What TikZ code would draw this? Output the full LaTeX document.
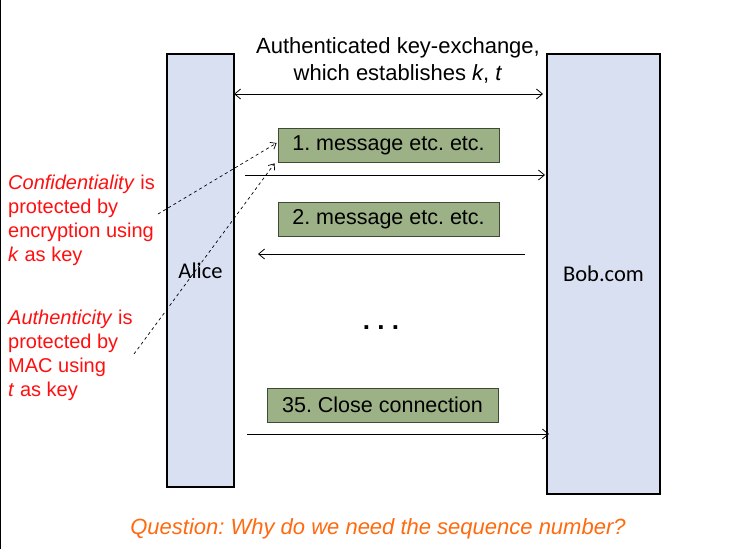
\documentclass[tikz,border=0pt]{standalone}
\usepackage{fontspec}
\setmainfont{Liberation Sans}
\newfontfamily\partyfont{Carlito}
\usepackage{tikz}
\usetikzlibrary{arrows.meta,positioning}
\definecolor{partyblue}{HTML}{D9E0F1}
\definecolor{msggreen}{HTML}{9CB185}
\definecolor{msgedge}{HTML}{3F4A35}
\definecolor{notered}{HTML}{FF1010}
\definecolor{askorange}{HTML}{FF6A0E}
\frenchspacing
\tikzset{
  party/.style    = {draw=black, line width=1.8pt, fill=partyblue,
                     font=\partyfont\fontsize{22.5}{24}\selectfont},
  msg box/.style  = {draw=msgedge, line width=0.8pt, fill=msggreen,
                     minimum height=34pt, inner sep=0pt,
                     font=\fontsize{21.5}{24}\selectfont},
  msg/.style      = {-{Straight Barb[length=6pt,width=10pt]}, line width=0.8pt},
  exchange/.style = {{Straight Barb[length=6pt,width=10pt]}-{Straight Barb[length=6pt,width=10pt]},
                     line width=0.8pt},
  note/.style     = {notered, align=left, anchor=north west, inner sep=0pt,
                     font=\fontsize{20}{24}\selectfont},
  pointer/.style  = {-{Straight Barb[length=5pt,width=8pt]}, dashed, line width=0.7pt},
}

\begin{document}
\begin{tikzpicture}[x=1pt,y=-1pt]
      \useasboundingbox[fill=white] (0,0) rectangle (746,549);
      \draw[line width=1.5pt] (0,0) -- (0,549);
      % the two parties
      \node[party, minimum width=67pt, minimum height=433pt] (alice) at (200.5,270.5) {Alice};
      \node[party, minimum width=113pt, minimum height=440pt] (bob) at (603.5,274) {Bob.com};
      % key exchange
      \node[align=center, font=\fontsize{22}{27}\selectfont] (kex) at (398,60)
        {Authenticated key-exchange,\\which establishes \textit{k}, \textit{t}};
      \coordinate (kexL) at (234,94);
      \coordinate (kexR) at (543,94);
      \draw[exchange] (kexL) -- (kexR);
      % messages
      \node[msg box, minimum width=221pt] (m1) at (388.5,145) {1. message etc. etc.};
      \node[msg box, minimum width=221pt] (m2) at (388.5,219) {2. message etc. etc.};
      \node[msg box, minimum width=231pt] (m35) at (382.5,405) {35. Close connection};
      \coordinate (a1) at (245,175);
      \coordinate (b1) at (545,175);
      \coordinate (b2) at (525,254);
      \coordinate (a2) at (258,254);
      \coordinate (a35) at (247,434);
      \coordinate (b35) at (549,434);
      \draw[msg] (a1) -- (b1);
      \draw[msg] (b2) -- (a2);
      \draw[msg] (a35) -- (b35);
      \node[font=\fontsize{26}{30}\selectfont\bfseries] (dots) at (381,328) {. . .};
      % what protects the messages
      \node[note] (conf) at (8,175)
        {\textit{Confidentiality} is\\protected by\\encryption using\\\textit{k} as key};
      \node[note] (auth) at (8,310)
        {\textit{Authenticity} is\\protected by\\MAC using\\\textit{t} as key};
      \coordinate (confptr) at (158,214);
      \coordinate (authptr) at (134,354);
      \draw[pointer] (confptr) -- ([shift={(-1pt,2pt)}]m1.west);
      \draw[pointer] (authptr) -- ([shift={(-3pt,-1pt)}]m1.south west);
      % the question
      \node[askorange, font=\fontsize{22}{24}\selectfont\itshape] (ask) at (378,529)
        {Question: Why do we need the sequence number?};
    \end{tikzpicture}
\end{document}
